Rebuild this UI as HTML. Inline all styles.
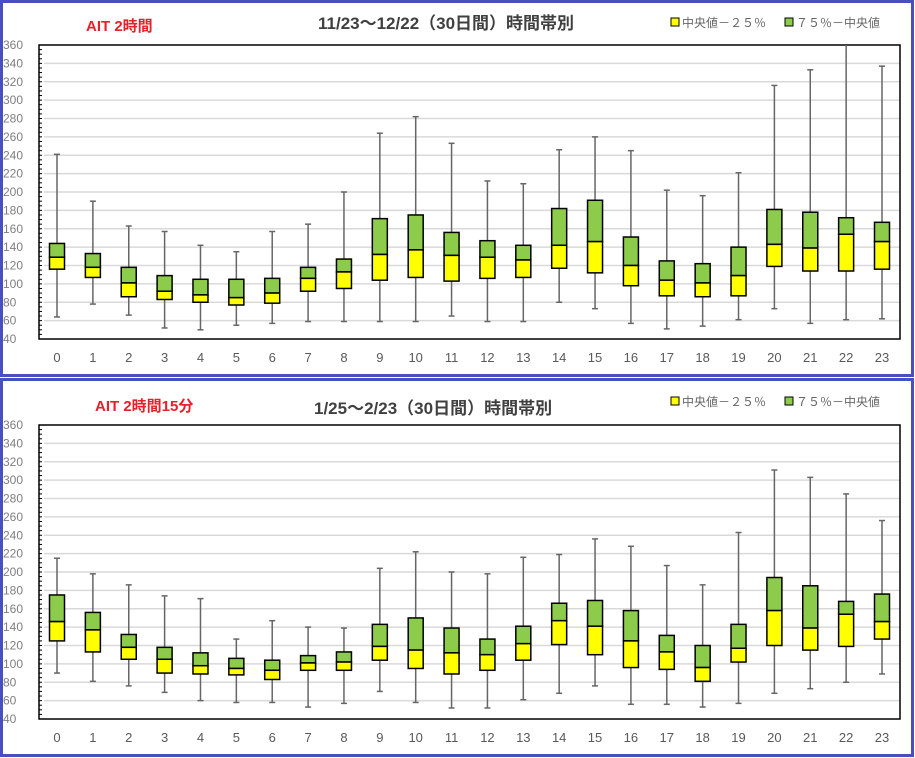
<!DOCTYPE html>
<html><head><meta charset="utf-8">
<style>
html,body{margin:0;padding:0;background:#fff;}
svg{display:block;font-family:"Liberation Sans","Noto Sans CJK JP",sans-serif;}
</style></head>
<body>
<svg id="c" width="915" height="758" viewBox="0 0 915 758">
  <rect x="1.5" y="1.5" width="911" height="374" fill="#fff" stroke="#4a4fc0" stroke-width="3"/>
  <rect x="1.5" y="379.5" width="911" height="376" fill="#fff" stroke="#4a4fc0" stroke-width="3"/>
  <text x="86" y="31" font-size="15" font-weight="bold" fill="#e8202a">AIT 2時間</text>
  <text x="318" y="29" font-size="17" font-weight="bold" fill="#404040">11/23～12/22（30日間）時間帯別</text>
  <text x="95" y="411" font-size="15" font-weight="bold" fill="#e8202a">AIT 2時間15分</text>
  <text x="314" y="414" font-size="17" font-weight="bold" fill="#404040">1/25～2/23（30日間）時間帯別</text>
  <g>
    <rect x="671" y="18" width="8" height="8" fill="#ffff00" stroke="#000"/>
    <text x="682" y="27" font-size="12" fill="#666">中央値－２５％</text>
    <rect x="785" y="18" width="8" height="8" fill="#8ccc4a" stroke="#000"/>
    <text x="796" y="27" font-size="12" fill="#666">７５％－中央値</text>
  </g>
  <g>
    <rect x="671" y="397" width="8" height="8" fill="#ffff00" stroke="#000"/>
    <text x="682" y="406" font-size="12" fill="#666">中央値－２５％</text>
    <rect x="785" y="397" width="8" height="8" fill="#8ccc4a" stroke="#000"/>
    <text x="796" y="406" font-size="12" fill="#666">７５％－中央値</text>
  </g>
</svg>
<script>
const hours = ["0","1","2","3","4","5","6","7","8","9","10","11","12","13","14","15","16","17","18","19","20","21","22","23"];
const yTicks = [40,60,80,100,120,140,160,180,200,220,240,260,280,300,320,340,360];
// Top chart (11/23-12/22)
const topMin = [64,78,66,52,50,55,57,59,59,59,59,65,59,59,80,73,57,51,54,61,73,57,61,62];
const topQ1  = [116,107,86,83,80,77,79,92,95,104,107,103,106,107,117,112,98,87,86,87,119,114,114,116];
const topMed = [129,118,101,92,88,85,90,106,113,132,137,131,129,126,142,146,120,104,101,109,143,139,154,146];
const topQ3  = [144,133,118,109,105,105,106,118,127,171,175,156,147,142,182,191,151,125,122,140,181,178,172,167];
const topMax = [241,190,163,157,142,135,157,165,200,264,282,253,212,209,246,260,245,202,196,221,316,333,370,337];
// Bottom chart (1/25-2/23)
const botMin = [90,81,76,69,60,58,58,53,57,70,58,52,52,61,68,76,56,56,53,57,68,73,80,89];
const botQ1  = [125,113,105,90,89,88,83,93,93,104,95,89,93,104,121,110,96,94,81,102,120,115,119,127];
const botMed = [146,137,118,105,98,95,93,101,102,119,115,112,110,122,147,141,125,113,96,117,158,139,154,146];
const botQ3  = [175,156,132,118,112,106,104,109,113,143,150,139,127,141,166,169,158,131,120,143,194,185,168,176];
const botMax = [215,198,186,174,171,127,147,140,139,204,222,200,198,216,219,236,228,207,186,243,311,303,285,256];

const NS = "http://www.w3.org/2000/svg";
const svg = document.getElementById('c');
function mk(tag, attrs, parent){
  const e = document.createElementNS(NS, tag);
  for (const k in attrs) e.setAttribute(k, attrs[k]);
  (parent||svg).appendChild(e);
  return e;
}
function drawChart(prefix, top, bottom, mins, q1, med, q3, maxs){
  const left = 39, right = 900;
  const vMin = 40, vMax = 360;
  const y = v => bottom - (v - vMin) * (bottom - top) / (vMax - vMin);
  const x0 = 57, step = (882 - 57) / 23;
  const x = i => x0 + i * step;
  const g = mk('g', {});
  
  
  const clipId = prefix + '-clip';
  const cp = mk('clipPath', {id: clipId}, g);
  mk('rect', {x:left, y:top, width:right-left, height:bottom-top}, cp);
  yTicks.forEach(t => {
    if (t > vMin && t < vMax) {
      const gl = mk('line', {x1:left+5, x2:right, y1:y(t), y2:y(t), stroke:'#d9d9d9', 'stroke-width':1.5}, g);
      
      
    }
    const tl = mk('text', {x:3, y:y(t)+4, 'font-size':12, fill:'#7f7f7f'}, g);
    tl.textContent = t;
    
    
  });
  for (let v = vMin; v <= vMax; v += 5) {
    mk('line', {x1:left, x2:left+3, y1:y(v), y2:y(v), stroke:'#000', 'stroke-width':1}, g);
  }
  const frame = mk('rect', {x:left, y:top, width:right-left, height:bottom-top, fill:'none', stroke:'#000', 'stroke-width':1.5}, g);
  
  
  const bw = 15;
  hours.forEach((h, i) => {
    const cx = x(i);
    const bg = mk('g', {'clip-path':'url(#'+clipId+')'}, g);
    
    
    mk('line', {x1:cx, x2:cx, y1:y(maxs[i]), y2:y(mins[i]), stroke:'#666', 'stroke-width':1.5}, bg);
    mk('line', {x1:cx-3, x2:cx+3, y1:y(maxs[i]), y2:y(maxs[i]), stroke:'#666', 'stroke-width':1.5}, bg);
    mk('line', {x1:cx-3, x2:cx+3, y1:y(mins[i]), y2:y(mins[i]), stroke:'#666', 'stroke-width':1.5}, bg);
    const up = mk('rect', {x:cx-bw/2, y:y(q3[i]), width:bw, height:y(med[i])-y(q3[i]), fill:'#8ccc4a', stroke:'#000', 'stroke-width':1.5}, bg);
    
    
    const lo = mk('rect', {x:cx-bw/2, y:y(med[i]), width:bw, height:y(q1[i])-y(med[i]), fill:'#ffff00', stroke:'#000', 'stroke-width':1.5}, bg);
    
    
    const xl = mk('text', {x:cx, y:bottom+23, 'font-size':13, fill:'#595959', 'text-anchor':'middle'}, g);
    xl.textContent = h;
    
    
  });
}
drawChart('top', 45, 339, topMin, topQ1, topMed, topQ3, topMax);
drawChart('bottom', 425, 719, botMin, botQ1, botMed, botQ3, botMax);
</script>
</body></html>
